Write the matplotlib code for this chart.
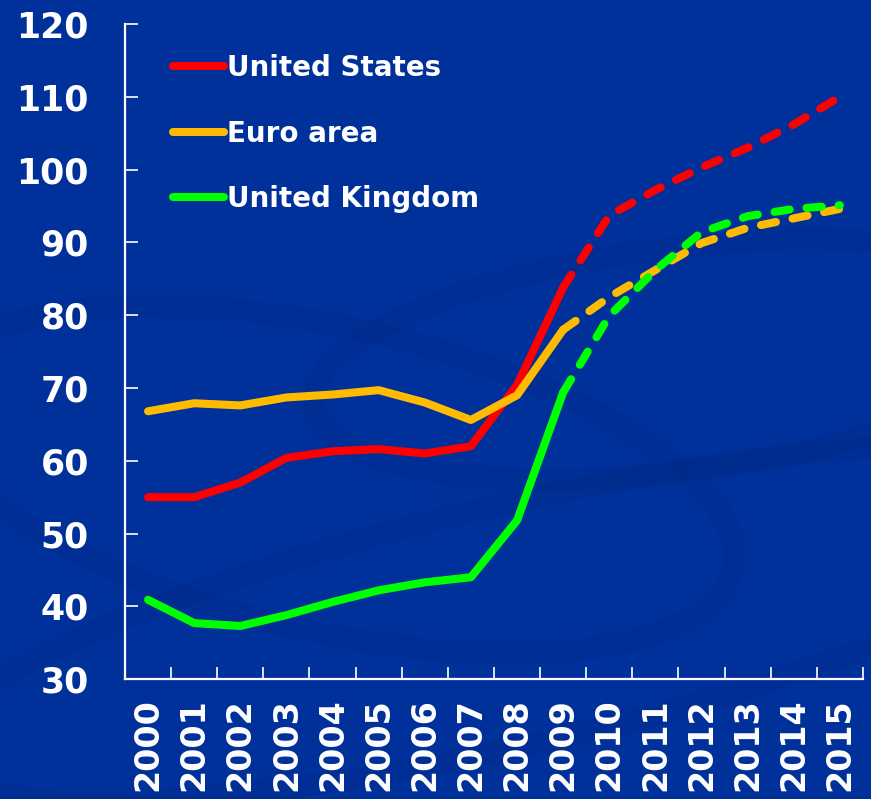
import numpy as np
import matplotlib.pyplot as plt
from matplotlib.patches import Ellipse

years = [str(y) for y in range(2000, 2016)]
us = [55.0, 55.0, 57.0, 60.4, 61.3, 61.6, 61.0, 62.0, 70.4, 83.8,
      93.7, 97.2, 100.3, 103.0, 106.2, 110.0]
euro = [66.8, 67.9, 67.6, 68.7, 69.1, 69.7, 68.0, 65.6, 69.0, 78.0,
        82.5, 86.2, 89.9, 92.0, 93.3, 94.6]
uk = [40.9, 37.7, 37.3, 38.8, 40.6, 42.2, 43.3, 44.0, 51.8, 69.4,
      79.9, 86.2, 91.4, 93.6, 94.6, 95.1]
names = ['United States', 'Euro area', 'United Kingdom']
colors = ['#ff0000', '#ffbb00', '#00ff00']
split = 9  # 2009: actual -> projection

bg = '#00309a'
fig = plt.figure(figsize=(8.71, 7.99), dpi=100, facecolor=bg)

# faint background swirls, behind everything
bax = fig.add_axes([0, 0, 1, 1], zorder=-1)
bax.set_axis_off()
bax.set_xlim(0, 1)
bax.set_ylim(0, 1)
for (cx, cy, w, h, ang) in [(0.38, 0.40, 0.95, 0.38, -14), (0.78, 0.55, 0.85, 0.28, 8),
                            (0.60, 0.22, 1.4, 0.30, 14)]:
    bax.add_patch(Ellipse((cx, cy), w, h, angle=ang, fill=False, ec='#002a88',
                          lw=16, alpha=0.3))

ax = fig.add_axes([0.1435, 0.150, 0.8473, 0.820])
ax.set_facecolor('none')

x = np.arange(len(years))
lw = 5.8
for vals, c, n in zip([us, euro, uk], colors, names):
    vals = np.array(vals)
    ax.plot(x[:split + 1], vals[:split + 1], color=c, lw=lw, solid_capstyle='round',
            solid_joinstyle='round', label=n)
    ax.plot(x[split:], vals[split:], color=c, lw=lw, dashes=(1.9, 2.1),
            dash_capstyle='round')

ax.set_xlim(-0.5, 15.5)
ax.set_ylim(30, 120)
ax.set_yticks(range(30, 121, 10))
ax.set_xticks(x)
ax.set_xticklabels(years, rotation=90)
ax.set_xticks(np.arange(0.5, 16, 1), minor=True)

for s in ['top', 'right']:
    ax.spines[s].set_visible(False)
for s in ['left', 'bottom']:
    ax.spines[s].set_color('white')
    ax.spines[s].set_linewidth(1.6)

ax.tick_params(axis='y', direction='in', length=9, width=1.2, color='white',
               labelcolor='white', labelsize=25, pad=26)
ax.tick_params(axis='x', which='major', length=0, labelcolor='white', labelsize=24, pad=14)
ax.tick_params(axis='x', which='minor', direction='in', length=9, width=1.2, color='white')
for lab in ax.get_xticklabels() + ax.get_yticklabels():
    lab.set_fontweight('bold')

leg = ax.legend(loc='upper left', bbox_to_anchor=(0.031, 0.992), frameon=False,
                handlelength=1.85, handletextpad=0.1, labelspacing=1.35,
                prop={'size': 20, 'weight': 'bold'})
for t in leg.get_texts():
    t.set_color('white')
for h in leg.get_lines():
    h.set_solid_capstyle('round')

fig.savefig('out.png', dpi=100, facecolor=bg)
